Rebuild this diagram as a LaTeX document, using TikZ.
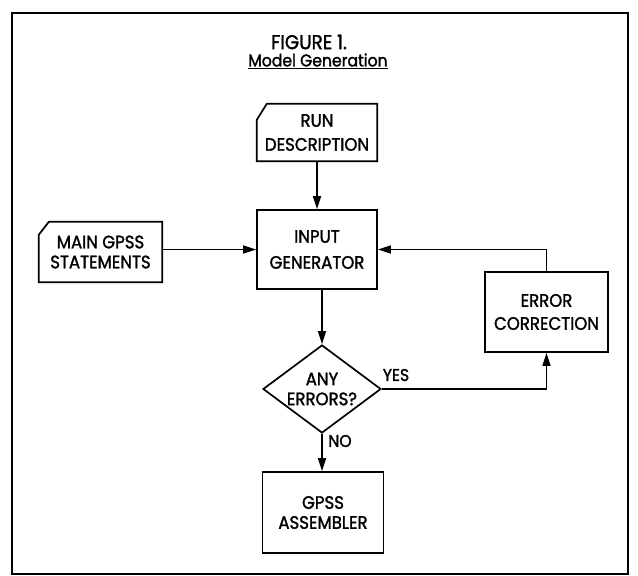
\documentclass[tikz,border=0pt]{standalone}
\usepackage{fontspec}
\setmainfont{Poppins}[FakeStretch=0.92, FakeBold=1.6]
\usetikzlibrary{arrows.meta,shapes.geometric}
\tikzset{
  box/.style={draw, line width=1.7pt, inner sep=0pt, align=center},
  cardnode/.style={draw=none, inner sep=0pt, align=center},
  cardline/.style={line width=1.7pt, line join=miter},
  arr/.style={line width=1.4pt, -{Triangle[length=13pt,width=8pt]}},
  lbl/.style={inner sep=0pt, font=\fontsize{17}{20}\selectfont},
  frame/.style={line width=1.8pt}
}
\begin{document}
\begin{tikzpicture}[x=1pt,y=-1pt]
\useasboundingbox (0,0) rectangle (638,576);
\draw[frame] (12,13) rectangle (628,574);
% title
\node[lbl, font=\fontsize{20}{22}\selectfont] (title) at (309,42) {FIGURE 1.};
\node[lbl, font=\fontsize{17}{20}\selectfont] (subtitle) at (318,61) {\underline{Model Generation}};
% nodes
\node[cardnode, minimum width=120pt, minimum height=57pt, font=\fontsize{18}{24}\selectfont] (run) at (317,132.5) {RUN\\DESCRIPTION};
\draw[cardline] ([xshift=10pt]run.north west) -- (run.north east) -- (run.south east) -- (run.south west) -- ([yshift=-16pt]run.north west) -- cycle;
\node[box, minimum width=120pt, minimum height=79pt, font=\fontsize{18}{26}\selectfont] (input) at (317,249.5) {INPUT\\GENERATOR};
\node[cardnode, minimum width=123pt, minimum height=60pt, font=\fontsize{18}{20}\selectfont] (main) at (100.5,252) {MAIN GPSS\\STATEMENTS};
\draw[cardline] ([xshift=10pt]main.north west) -- (main.north east) -- (main.south east) -- (main.south west) -- ([yshift=-13pt]main.north west) -- cycle;
\node[box, minimum width=123pt, minimum height=80pt, font=\fontsize{18}{23}\selectfont] (err) at (546.5,312) {ERROR\\CORRECTION};
\node[draw, shape=diamond, line width=1.7pt, inner sep=0pt, aspect=1.34, minimum width=118pt, minimum height=88pt, align=center, font=\fontsize{18}{20}\selectfont] (dia) at (322,389) {ANY\\ERRORS?};
\node[box, minimum width=121pt, minimum height=81pt, font=\fontsize{18}{20}\selectfont] (asm) at (323,512.5) {GPSS\\ASSEMBLER};
\node[lbl] (yes) at (396,375) {YES};
\node[lbl] (no) at (340,441) {NO};
% connectors
\draw[arr] (run.south) -- (input.north);
\draw[arr] (main.east |- input.west) -- (input.west);
\draw[arr] (input.south -| dia.north) -- (dia.north);
\draw[arr] (err.north) |- (input.east);
\draw[arr] (dia.east) -| (err.south);
\draw[arr] (dia.south) -- (asm.north -| dia.south);
\end{tikzpicture}
\end{document}
